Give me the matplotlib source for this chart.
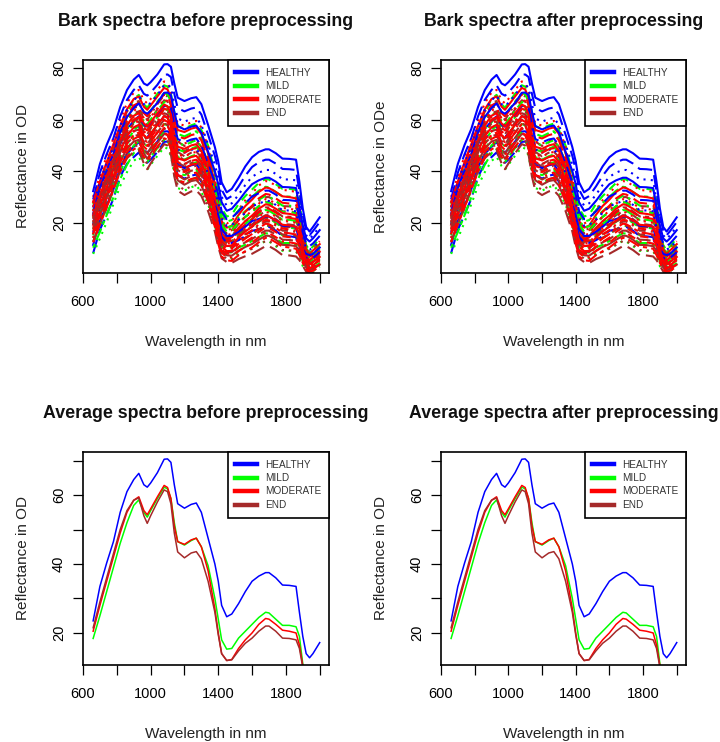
import matplotlib
matplotlib.use("Agg")
import matplotlib.pyplot as plt
import numpy as np

plt.rcParams['font.family'] = ['Liberation Sans', 'DejaVu Sans']

W, H = 720, 742

# wavelength grid (nm)
wavelength = [660, 700, 740, 780, 820, 860, 900, 930, 960, 980, 1000, 1040, 1080,
              1100, 1120, 1140, 1160, 1200, 1240, 1270, 1300, 1340, 1380, 1400,
              1420, 1450, 1480, 1520, 1560, 1600, 1640, 1680, 1700, 1740, 1780,
              1820, 1860, 1880, 1900, 1920, 1940, 1960, 2000]

# average spectra per class
healthy_mean = [23.5, 33.5, 40.3, 46.5, 55.0, 61.0, 64.5, 66.3, 63.0, 62.3, 63.5, 66.5, 70.4,
                70.5, 69.5, 63.0, 57.5, 56.2, 57.3, 57.7, 55.0, 47.5, 40.0, 35.0,
                28.0, 24.7, 25.5, 28.5, 32.0, 35.0, 36.5, 37.5, 37.5, 36.0, 33.9,
                33.8, 33.5, 26.0, 19.0, 14.0, 12.8, 14.0, 17.2]
mild_mean = [18.4, 25.0, 32.0, 39.0, 46.0, 52.0, 57.0, 58.6, 55.0, 53.6, 55.5, 59.0, 62.3,
             61.8, 59.0, 52.0, 46.5, 45.5, 46.8, 47.5, 45.0, 39.5, 30.0, 24.0,
             18.0, 15.3, 15.5, 18.5, 20.5, 22.5, 24.5, 26.0, 25.8, 24.0, 22.2,
             22.2, 21.8, 19.0, 11.0, 7.0, 5.5, 6.5, 9.0]
moderate_mean = [20.5, 28.0, 35.0, 42.0, 49.0, 55.0, 58.5, 59.5, 55.5, 54.3, 56.0, 59.5, 62.8,
                 62.2, 59.0, 51.0, 46.5, 45.7, 47.0, 47.5, 45.0, 38.0, 27.0, 20.0,
                 14.0, 12.0, 12.3, 15.5, 18.0, 20.0, 22.5, 24.2, 24.0, 22.5, 20.8,
                 20.5, 20.0, 16.5, 10.5, 6.0, 4.5, 5.5, 7.5]
end_mean = [21.5, 29.0, 36.0, 43.0, 50.0, 55.5, 58.5, 59.2, 54.0, 51.8, 54.0, 58.0, 61.5,
            61.0, 57.5, 49.0, 43.5, 41.8, 43.2, 43.6, 41.5, 35.0, 26.0, 19.5,
            14.0, 12.0, 12.2, 14.8, 17.0, 18.5, 20.5, 22.0, 22.0, 20.5, 18.5,
            18.4, 18.0, 15.5, 10.0, 5.5, 4.0, 5.0, 7.0]

# spread of the individual bark spectra around the class mean
spread_profile = [0.8, 0.85, 0.9, 0.9, 0.9, 0.95, 1.0, 1.0, 1.0, 1.0, 1.0, 1.0, 1.0,
                  1.0, 1.0, 1.0, 1.0, 1.0, 1.0, 1.0, 1.0, 0.95, 0.85, 0.8,
                  0.7, 0.65, 0.7, 0.8, 0.9, 0.95, 1.0, 1.0, 1.0, 1.0, 1.0,
                  1.0, 1.0, 0.9, 0.6, 0.4, 0.35, 0.4, 0.45]
healthy_offsets = [11, 7, 3, 0, -5, -9, -15, -19]
mild_offsets = [11, 8, 4.5, 2, -1, -4, -7, -10, -13]
moderate_offsets = [12, 9.5, 7, 5, 3, 1.5, 0, -1.5, -3, -4.5, -6, -8, -10]
end_offsets = [8, 6, 4, 2.5, 1, 0, -1.5, -3, -5, -7, -9, -11]

classes = ['HEALTHY', 'MILD', 'MODERATE', 'END']
colors = ['#0000FF', '#00FF00', '#FF0000', '#A52A2A']
means = [healthy_mean, mild_mean, moderate_mean, end_mean]
offsets = [healthy_offsets, mild_offsets, moderate_offsets, end_offsets]

r_lty = ['-', (0, (4, 3)), (0, (1, 2.5)), (0, (1, 2.5, 4, 2.5)), (0, (7, 3)), (0, (2, 2, 6, 2))]


def px_axes(fig, x0, y0, x1, y1):
    return fig.add_axes([x0 / W, 1 - y1 / H, (x1 - x0) / W, (y1 - y0) / H])


def ftext(fig, x, y, s, **kw):
    fig.text(x / W, 1 - y / H, s, **kw)


def style_axes(ax, ylim, yticks, ylabels):
    ax.set_xlim(600, 2055)
    ax.set_ylim(*ylim)
    ax.set_xticks(np.arange(600, 2001, 200))
    ax.set_xticklabels(['600', '', '1000', '', '1400', '', '1800', ''])
    ax.set_yticks(yticks)
    ax.set_yticklabels(ylabels, rotation=90, va='center')
    ax.tick_params(axis='x', direction='out', length=7.2, width=0.9, pad=9, labelsize=10.5)
    ax.tick_params(axis='y', direction='out', length=7.2, width=0.9, pad=5, labelsize=10.5)
    for sp in ax.spines.values():
        sp.set_linewidth(1.2)


def add_legend(ax):
    handles = [plt.Line2D([], [], color=c, lw=3.2) for c in colors]
    leg = ax.legend(handles, classes, loc='upper right', borderaxespad=0, fancybox=False,
                    framealpha=1, edgecolor='black', fontsize=7.2, handlelength=2.2,
                    handletextpad=0.8, labelspacing=0.35, borderpad=0.75)
    leg.get_frame().set_linewidth(1.2)
    for t in leg.get_texts():
        t.set_color('#333333')


fig = plt.figure(figsize=(W / 100, H / 100), dpi=100)
wl = np.array(wavelength)
prof = np.array(spread_profile)

panels = [
    (83, 60, 329, 273, 'Bark spectra before preprocessing', 'Reflectance in OD', 'bark'),
    (441, 60, 686, 273, 'Bark spectra after preprocessing', 'Reflectance in ODe', 'bark'),
    (83, 452, 329, 665, 'Average spectra before preprocessing', 'Reflectance in OD', 'avg'),
    (441, 452, 686, 665, 'Average spectra after preprocessing', 'Reflectance in OD', 'avg'),
]

for x0, y0, x1, y1, title, ylab, kind in panels:
    ax = px_axes(fig, x0, y0, x1, y1)
    if kind == 'bark':
        n = max(len(o) for o in offsets)
        k = 0
        for i in range(n):
            for m, off, c in zip(means, offsets, colors):
                if i < len(off):
                    ax.plot(wl, np.array(m) + off[i] * prof, color=c, lw=1.5,
                            linestyle=r_lty[k % len(r_lty)])
                    k += 1
        style_axes(ax, (0.6, 83.1), [20, 40, 60, 80], ['20', '40', '60', '80'])
    else:
        for m, c in zip(means, colors):
            ax.plot(wl, m, color=c, lw=1.1)
        style_axes(ax, (10.7, 72.5), [20, 30, 40, 50, 60, 70],
                   ['20', '', '40', '', '60', ''])
    add_legend(ax)
    cx = (x0 + x1) / 2
    ftext(fig, cx, y0 - 39, title, ha='center', va='center', fontsize=12.8,
          fontweight='bold', color='#111111')
    ftext(fig, cx, y1 + 69, 'Wavelength in nm', ha='center', va='center',
          fontsize=11, color='#222222')
    ftext(fig, x0 - 60, (y0 + y1) / 2, ylab, ha='center', va='center', rotation=90,
          fontsize=11, color='#222222')

fig.savefig('out.png', dpi=100)
